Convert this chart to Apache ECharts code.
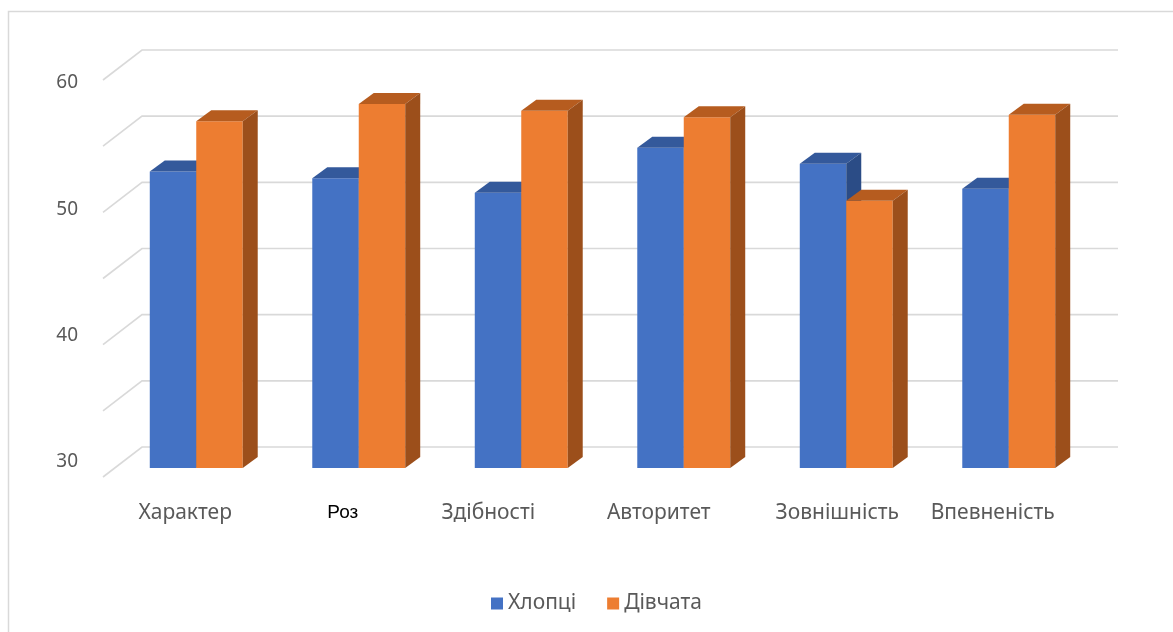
<!DOCTYPE html>
<html>
<head>
<meta charset="utf-8">
<script src="https://cdn.jsdelivr.net/npm/echarts@6/dist/echarts.min.js"></script>
<style>
  html, body { margin: 0; padding: 0; background: #ffffff; }
  #chart { width: 1173px; height: 632px; }
</style>
</head>
<body>
<div id="chart"></div>
<script>
// ---- data ----
const categories = ['Характер', 'Роз', 'Здібності', 'Авторитет', 'Зовнішність', 'Впевненість'];
const seriesNames = ['Хлопці', 'Дівчата'];
const boys = [52.4, 51.9, 50.8, 54.2, 53.0, 51.1];
const girls = [56.2, 57.5, 57.0, 56.5, 50.2, 56.7];
const gridValues = [30, 35, 40, 45, 50, 55, 60];
const axisMin = 30;
const axisMax = 60;
const labelStep = 10;

// ---- look ----
const FONT = '"Noto Sans", "DejaVu Sans", sans-serif';
const TEXT_COLOR = '#595959';
const GRID_COLOR = '#D9D9D9';
const faces = [
  { front: '#4472C4', top: '#34599B', side: '#2B4C86' },
  { front: '#ED7D31', top: '#B65C1F', side: '#9C4F1B' }
];
// pseudo-3D depth of a bar, and of the wall/floor around the bars
const DEPTH_X = 15, DEPTH_Y = -11;
const WALL_BACK_DX = 27, WALL_BACK_DY = -21;
const FLOOR_FRONT_DX = -12, FLOOR_FRONT_DY = 9;
const BAR_SHARE = 0.286;            // width of one bar as a share of the category band
const labelNudge = [-11, -16, -33, -25, -9, -16]; // horizontal shift of category captions

const chart = echarts.init(document.getElementById('chart'), null, { renderer: 'canvas' });

function barRenderer(seriesIdx) {
  return function (params, api) {
    const cat = api.value(0);
    const val = api.value(1);
    const top = api.coord([cat, val]);
    const base = api.coord([cat, axisMin]);
    const band = api.size([1, 0])[0];
    const w = band * BAR_SHARE;
    const x0 = seriesIdx === 0 ? top[0] - w : top[0];
    const x1 = x0 + w;
    const yT = top[1], yB = base[1];
    const c = faces[seriesIdx];
    return {
      type: 'group',
      children: [
        { type: 'polygon', shape: { points: [[x0, yB], [x1, yB], [x1, yT], [x0, yT]] },
          style: { fill: c.front } },
        { type: 'polygon', shape: { points: [[x0, yT], [x1, yT], [x1 + DEPTH_X, yT + DEPTH_Y], [x0 + DEPTH_X, yT + DEPTH_Y]] },
          style: { fill: c.top } },
        { type: 'polygon', shape: { points: [[x1, yB], [x1 + DEPTH_X, yB + DEPTH_Y], [x1 + DEPTH_X, yT + DEPTH_Y], [x1, yT]] },
          style: { fill: c.side } }
      ]
    };
  };
}

function gridRenderer(params, api) {
  const cs = params.coordSys;
  const y = api.coord([0, api.value(1)])[1];
  return {
    type: 'polyline',
    silent: true,
    shape: { points: [
      [cs.x + FLOOR_FRONT_DX, y + FLOOR_FRONT_DY],
      [cs.x + WALL_BACK_DX, y + WALL_BACK_DY],
      [cs.x + cs.width + WALL_BACK_DX + 1, y + WALL_BACK_DY]
    ] },
    style: { stroke: GRID_COLOR, lineWidth: 1.6, fill: null }
  };
}

const rich = {};
categories.forEach(function (name, i) {
  rich['c' + i] = {
    fontFamily: i === 1 ? '"Liberation Sans", sans-serif' : FONT,
    fontSize: i === 1 ? 19 : 21,
    color: i === 1 ? '#000000' : TEXT_COLOR,
    padding: [0, -2 * labelNudge[i], 0, 0]
  };
});

chart.setOption({
  backgroundColor: '#ffffff',
  animation: false,
  graphic: [{
    type: 'rect',
    silent: true,
    shape: { x: 8.5, y: 11.5, width: 1200, height: 700 },
    style: { fill: null, stroke: '#D9D9D9', lineWidth: 1.5 }
  }],
  legend: {
    data: seriesNames,
    left: 486,
    top: 588,
    icon: 'rect',
    itemWidth: 12,
    itemHeight: 12,
    itemGap: 31,
    textStyle: { fontFamily: FONT, fontSize: 21, color: TEXT_COLOR }
  },
  grid: [
    { left: 115, right: 83, top: 71, bottom: 164 },
    { left: 86, width: 1, top: 83, bottom: 170 }
  ],
  xAxis: [
    {
      type: 'category',
      gridIndex: 0,
      data: categories,
      axisLine: { show: false },
      axisTick: { show: false },
      splitLine: { show: false },
      axisLabel: {
        interval: 0,
        margin: 35,
        formatter: function (value, idx) { return '{c' + idx + '|' + value + '}'; },
        rich: rich
      }
    },
    { type: 'value', gridIndex: 1, show: false }
  ],
  yAxis: [
    { type: 'value', gridIndex: 0, min: axisMin, max: axisMax, show: false },
    {
      type: 'value', gridIndex: 1, min: axisMin, max: axisMax, interval: labelStep,
      axisLine: { show: false }, axisTick: { show: false }, splitLine: { show: false },
      axisLabel: { margin: 8, fontFamily: FONT, fontSize: 19, color: TEXT_COLOR }
    }
  ],
  series: [
    {
      type: 'custom',
      name: 'walls',
      xAxisIndex: 0, yAxisIndex: 0,
      silent: true,
      clip: false,
      z: 1,
      renderItem: gridRenderer,
      data: gridValues.map(function (v) { return [0, v]; })
    },
    {
      type: 'custom',
      name: seriesNames[0],
      xAxisIndex: 0, yAxisIndex: 0,
      clip: false,
      z: 2,
      itemStyle: { color: faces[0].front },
      renderItem: barRenderer(0),
      data: categories.map(function (c, i) { return [i, boys[i]]; })
    },
    {
      type: 'custom',
      name: seriesNames[1],
      xAxisIndex: 0, yAxisIndex: 0,
      clip: false,
      z: 3,
      itemStyle: { color: faces[1].front },
      renderItem: barRenderer(1),
      data: categories.map(function (c, i) { return [i, girls[i]]; })
    }
  ]
});
</script>
</body>
</html>
